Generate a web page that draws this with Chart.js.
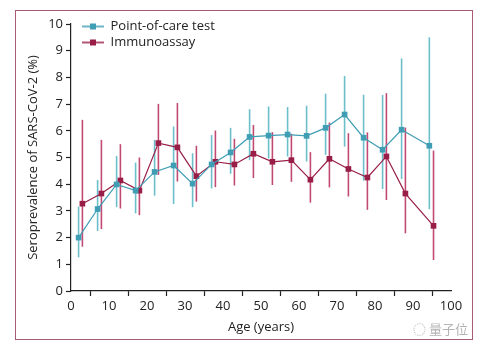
<!DOCTYPE html>
<html>
<head>
<meta charset="utf-8">
<script src="https://cdn.jsdelivr.net/npm/chart.js@4"></script>
<style>
  html, body { margin: 0; padding: 0; background: #fff; }
  #frame { position: absolute; left: 15px; top: 10px; width: 456px; height: 328px; border: 1.5px solid #a85a74; }
  #wrap { position: absolute; left: 0; top: 0; width: 456px; height: 328px; }
  #mark { position: absolute; left: 413px; top: 319px; font: 13px "Noto Sans CJK SC", sans-serif; color: #b4b4b4; white-space: nowrap; }
</style>
</head>
<body>
<div id="frame"><div id="wrap"><canvas id="c"></canvas></div></div>
<div id="mark">◌ 量子位</div>
<script>
// ages (years) and seroprevalence (%) with 95% CI
const ageTest = [2, 7, 12, 17, 22, 27, 32, 37, 42, 47, 52, 57, 62, 67, 72, 77, 82, 87, 94.3];
const testValue = [2.00, 3.07, 3.99, 3.76, 4.46, 4.70, 4.02, 4.74, 5.19, 5.77, 5.82, 5.86, 5.81, 6.11, 6.61, 5.74, 5.29, 6.04, 5.44];
const testLow = [1.26, 2.25, 3.14, 2.91, 3.57, 3.26, 3.14, 3.84, 4.39, 4.90, 4.97, 5.04, 4.85, 5.10, 5.41, 4.14, 3.82, 4.19, 3.06];
const testHigh = [3.16, 4.16, 5.06, 4.81, 5.66, 6.16, 5.16, 5.84, 6.11, 6.81, 6.91, 6.89, 6.94, 7.39, 8.05, 7.35, 7.34, 8.71, 9.50];

const ageImmuno = [3, 8, 13, 18, 23, 28, 33, 38, 43, 48, 53, 58, 63, 68, 73, 78, 83, 88, 95.4];
const immunoValue = [3.27, 3.65, 4.14, 3.76, 5.54, 5.38, 4.30, 4.84, 4.74, 5.14, 4.84, 4.90, 4.17, 4.95, 4.57, 4.25, 5.04, 3.65, 2.44];
const immunoLow = [1.66, 2.32, 3.09, 2.84, 4.35, 4.10, 3.35, 3.89, 3.95, 4.23, 3.97, 4.09, 3.31, 3.88, 3.54, 3.04, 3.41, 2.16, 1.16];
const immunoHigh = [6.41, 5.66, 5.50, 5.00, 7.01, 7.04, 5.44, 6.01, 5.70, 6.22, 5.95, 5.89, 5.20, 6.31, 5.91, 5.94, 7.41, 6.12, 5.26];

const xTicks = [0, 10, 20, 30, 40, 50, 60, 70, 80, 90, 100];
const yTicks = [0, 1, 2, 3, 4, 5, 6, 7, 8, 9, 10];

const TEAL = "#3f9db4", TEAL_BAR = "#6cbfca";
const RED = "#981e48", RED_BAR = "#c04a73";
const FONT = "Open Sans";

function legendIcon(color) {
  const cv = document.createElement("canvas");
  cv.width = 22; cv.height = 8;
  const g = cv.getContext("2d");
  g.strokeStyle = color; g.lineWidth = 1.5;
  g.beginPath(); g.moveTo(0, 4); g.lineTo(22, 4); g.stroke();
  g.fillStyle = color; g.fillRect(8, 1, 6, 6);
  return cv;
}
const icons = [legendIcon(TEAL), legendIcon(RED)];

const zip = (xs, ys) => xs.map((x, i) => ({ x, y: ys[i] }));
const ci = (xs, lo, hi) => xs.map((x, i) => ({ x, y: [lo[i], hi[i]] }));

// nudge the in-plot legend a little away from the corner
const legendNudge = {
  id: "legendNudge",
  afterLayout(chart) {
    if (chart.legend) { chart.legend.left += 8; chart.legend.top += 6; }
  },
};

new Chart(document.getElementById("c"), {
  type: "line",
  data: {
    datasets: [
      { label: "Point-of-care test", data: zip(ageTest, testValue), borderColor: TEAL, backgroundColor: TEAL,
        borderWidth: 1.2, pointStyle: "rect", pointRadius: 4, pointBorderWidth: 0, order: 1 },
      { label: "Immunoassay", data: zip(ageImmuno, immunoValue), borderColor: RED, backgroundColor: RED,
        borderWidth: 1.2, pointStyle: "rect", pointRadius: 4, pointBorderWidth: 0, order: 1 },
      { type: "bar", label: "ci-test", data: ci(ageTest, testLow, testHigh), backgroundColor: TEAL_BAR,
        barThickness: 1.6, inflateAmount: 0, grouped: false, order: 2 },
      { type: "bar", label: "ci-immuno", data: ci(ageImmuno, immunoLow, immunoHigh), backgroundColor: RED_BAR,
        barThickness: 1.6, inflateAmount: 0, grouped: false, order: 2 },
    ],
  },
  plugins: [legendNudge],
  options: {
    responsive: true,
    maintainAspectRatio: false,
    animation: false,
    layout: { padding: { left: 5, right: 21, top: 13, bottom: 0 } },
    plugins: {
      tooltip: { enabled: false },
      legend: {
        position: "chartArea",
        align: "start",
        labels: {
          font: { family: FONT, size: 13 },
          color: "#222",
          usePointStyle: true,
          pointStyleWidth: 22,
          padding: 3,
          filter: item => item.datasetIndex < 2,
          generateLabels: chart => {
            const items = Chart.defaults.plugins.legend.labels.generateLabels(chart);
            items.forEach(it => { if (it.datasetIndex < 2) it.pointStyle = icons[it.datasetIndex]; });
            return items;
          },
        },
      },
    },
    scales: {
      x: {
        type: "linear", min: 0, max: 100, offset: false,
        afterBuildTicks: s => { s.ticks = xTicks.map(v => ({ value: v })); },
        afterFit: s => { s.height = 48; },
        grid: { drawOnChartArea: false, tickLength: 5, color: "#222", tickWidth: 1.2 },
        border: { color: "#222", width: 1.2 },
        ticks: { font: { family: FONT, size: 13 }, color: "#222", padding: 2, maxRotation: 0 },
        title: { display: true, text: "Age (years)", font: { family: FONT, size: 13 }, color: "#222", padding: 4 },
      },
      y: {
        min: 0, max: 10,
        afterBuildTicks: s => { s.ticks = yTicks.map(v => ({ value: v })); },
        afterFit: s => { s.width = 50; },
        grid: { drawOnChartArea: false, tickLength: 5, color: "#222", tickWidth: 1.2 },
        border: { color: "#222", width: 1.2 },
        ticks: { font: { family: FONT, size: 13 }, color: "#222", padding: 3 },
        title: { display: true, text: "Seroprevalence of SARS-CoV-2 (%)", font: { family: FONT, size: 13 }, color: "#222", padding: 4 },
      },
    },
  },
});
</script>
</body>
</html>
